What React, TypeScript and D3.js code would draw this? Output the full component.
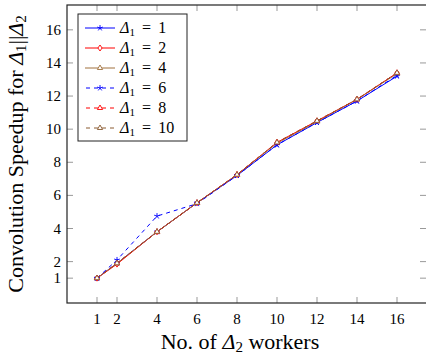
import * as d3 from "d3";
import React from "react";

const workers = [1, 2, 4, 6, 8, 10, 12, 14, 16];
const xTicks = [1, 2, 4, 6, 8, 10, 12, 14, 16];
const yTicks = [1, 2, 4, 6, 8, 10, 12, 14, 16];

const d1 = [1, 1.9, 3.8, 5.55, 7.2, 9.05, 10.4, 11.7, 13.2];
const d2 = [1, 1.85, 3.8, 5.55, 7.25, 9.2, 10.5, 11.8, 13.4];
const d4 = [1, 1.9, 3.8, 5.55, 7.25, 9.15, 10.45, 11.8, 13.35];
const d6 = [1, 2.1, 4.75, 5.5, 7.2, 9.05, 10.4, 11.7, 13.25];
const d8 = [1, 1.9, 3.8, 5.55, 7.25, 9.2, 10.5, 11.8, 13.4];
const d10 = [1, 1.9, 3.8, 5.55, 7.25, 9.2, 10.5, 11.8, 13.4];

const series = [
  { name: "1", values: d1, color: "#0000ff", dashed: false, mark: "star" },
  { name: "2", values: d2, color: "#ff0000", dashed: false, mark: "diamond" },
  { name: "4", values: d4, color: "#a0703c", dashed: false, mark: "triangle" },
  { name: "6", values: d6, color: "#0000ff", dashed: true, mark: "star" },
  { name: "8", values: d8, color: "#ff0000", dashed: true, mark: "triangle" },
  { name: "10", values: d10, color: "#8a5a30", dashed: true, mark: "triangle" },
];

const W = 426;
const H = 356;
const left = 67, right = 427, top = 5, bottom = 303;
const font = "Liberation Serif, DejaVu Serif, serif";

function Marker({ type, x, y, color }: { type: string; x: number; y: number; color: string }) {
  const r = 3;
  if (type === "star") {
    const arms = d3.range(5).map((i) => {
      const a = -Math.PI / 2 + (i * 2 * Math.PI) / 5;
      return `M${x},${y}L${x + r * Math.cos(a)},${y + r * Math.sin(a)}`;
    });
    return <path d={arms.join("")} stroke={color} strokeWidth={0.9} fill="none" />;
  }
  if (type === "diamond") {
    return (
      <path
        d={`M${x},${y - r}L${x + r * 0.7},${y}L${x},${y + r}L${x - r * 0.7},${y}Z`}
        stroke={color}
        strokeWidth={0.9}
        fill="white"
      />
    );
  }
  return (
    <path
      d={`M${x},${y - r}L${x + r * 0.87},${y + r * 0.5}L${x - r * 0.87},${y + r * 0.5}Z`}
      stroke={color}
      strokeWidth={0.9}
      fill="white"
    />
  );
}

export default function App() {
  const x = d3.scaleLinear().domain([-0.5, 17.5]).range([left, right]);
  const y = d3.scaleLinear().domain([-0.5, 17.5]).range([bottom, top]);
  const line = d3
    .line<number>()
    .x((_, i) => x(workers[i]))
    .y((d) => y(d));

  const legX = 78, legY = 14, legW = 109, legH = 127, rowH = 20;

  return (
    <svg
      width={W}
      height={H}
      style={{ position: "absolute", left: 0, top: 0, background: "white", fontFamily: font }}
    >
      {/* ticks */}
      {xTicks.map((t) => (
        <g key={"x" + t}>
          <line x1={x(t)} x2={x(t)} y1={bottom} y2={bottom - 6} stroke="#999" />
          <line x1={x(t)} x2={x(t)} y1={top} y2={top + 6} stroke="#999" />
          <text x={x(t)} y={bottom + 21} textAnchor="middle" fontSize={15}>
            {t}
          </text>
        </g>
      ))}
      {yTicks.map((t) => (
        <g key={"y" + t}>
          <line x1={left} x2={left + 6} y1={y(t)} y2={y(t)} stroke="#999" />
          <line x1={right - 7} x2={right} y1={y(t)} y2={y(t)} stroke="#999" />
          <text x={left - 6} y={y(t) + 5} textAnchor="end" fontSize={15}>
            {t}
          </text>
        </g>
      ))}

      {/* series */}
      {series.map((s) => (
        <g key={s.name}>
          <path
            d={line(s.values) ?? ""}
            fill="none"
            stroke={s.color}
            strokeWidth={1}
            strokeDasharray={s.dashed ? "4 4" : undefined}
          />
          {s.values.map((v, i) => (
            <Marker key={i} type={s.mark} x={x(workers[i])} y={y(v)} color={s.color} />
          ))}
        </g>
      ))}

      {/* frame */}
      <rect x={left} y={top} width={right - left} height={bottom - top} fill="none" stroke="#222" strokeWidth={1.2} />

      {/* legend */}
      <rect x={legX} y={legY} width={legW} height={legH} fill="white" stroke="#222" strokeWidth={1} />
      {series.map((s, i) => {
        const cy = legY + 14 + i * rowH;
        return (
          <g key={"l" + s.name}>
            <line
              x1={legX + 7}
              x2={legX + 37}
              y1={cy}
              y2={cy}
              stroke={s.color}
              strokeWidth={1}
              strokeDasharray={s.dashed ? "4 4" : undefined}
              strokeDashoffset={s.dashed ? -1 : undefined}
            />
            <Marker type={s.mark} x={legX + 22} y={cy} color={s.color} />
            <text x={legX + 42} y={cy + 5} fontSize={16}>
              <tspan fontStyle="italic">Δ</tspan>
              <tspan fontSize={11} dy={3}>1</tspan>
              <tspan dy={-3}>{" \u2009=\u2009 "}{s.name}</tspan>
            </text>
          </g>
        );
      })}

      {/* axis labels */}
      <text x={240} y={349} textAnchor="middle" fontSize={22}>
        No. of <tspan fontStyle="italic">Δ</tspan>
        <tspan fontSize={15} dy={3}>2</tspan>
        <tspan dy={-3}> workers</tspan>
      </text>
      <text
        transform={`translate(23, ${(top + bottom) / 2}) rotate(-90)`}
        textAnchor="middle"
        fontSize={22}
      >
        Convolution Speedup for <tspan fontStyle="italic">Δ</tspan>
        <tspan fontSize={15} dy={3}>1</tspan>
        <tspan dy={-3}>||</tspan>
        <tspan fontStyle="italic">Δ</tspan>
        <tspan fontSize={15} dy={3}>2</tspan>
      </text>
    </svg>
  );
}
